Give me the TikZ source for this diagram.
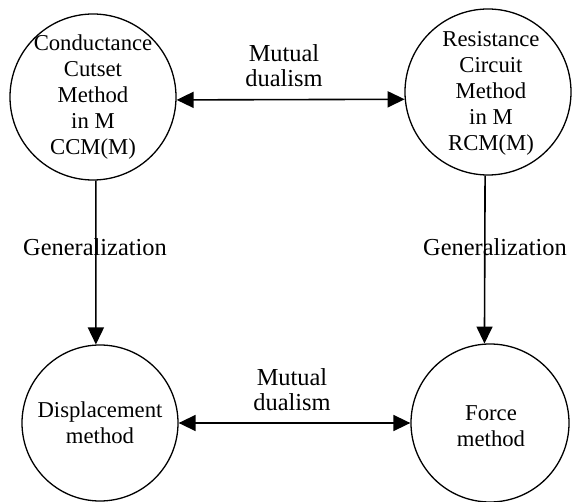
\documentclass[tikz,border=0pt]{standalone}
\usepackage{fontspec}
\setmainfont{Liberation Serif}
\usetikzlibrary{arrows.meta}
\tikzstyle{methodnode}=[circle,draw=black,line width=1.3pt,
                        inner sep=0pt]
\tikzstyle{methodtext}=[align=center,inner sep=0pt,
                        font=\fontsize{22.7}{26}\selectfont]
\tikzstyle{linktext}=[align=center,inner sep=0pt,
                      font=\fontsize{24.4}{25}\selectfont]
\tikzstyle{genarrow}=[line width=1.6pt,
                      -{Triangle[length=17pt,width=16pt]}]
\tikzstyle{dualarrow}=[line width=1.6pt,
                       {Triangle[length=17pt,width=16pt]}-{Triangle[length=17pt,width=16pt]}]

\begin{document}
\begin{tikzpicture}[x=1pt,y=-1pt]
    \useasboundingbox (0,0) rectangle (573,502);
    % the four methods
    \node (ccm) at ( 93, 97) [methodnode,minimum size=166pt]{};
    \node (rcm) at (488, 92) [methodnode,minimum size=166pt]{};
    \node (dm)  at (100,423) [methodnode,minimum size=156pt]{};
    \node (fm)  at (490,423) [methodnode,minimum size=158pt]{};
    \node (ccmtext) at (ccm) [methodtext]{Conductance\\Cutset\\Method\\in M\\CCM(M)};
    \node (rcmtext) at (491, 93) [methodtext]{Resistance\\Circuit\\Method\\in M\\RCM(M)};
    \node (dmtext)  at (dm) [methodtext]{Displacement\\method};
    \node (fmtext)  at (491,426) [methodtext]{Force\\method};
    % links
    \draw[dualarrow] (ccm.-2) -- (rcm.185.5);
    \draw[dualarrow] (dm.east) -- (fm.west);
    \draw[genarrow] (ccm.-88) -- (dm.93);
    \draw[genarrow] (rcm.-92.8) -- (fm.94.4);
    \node (dualtop) at (284, 66) [linktext]{Mutual\\dualism};
    \node (dualbot) at (292,390) [linktext]{Mutual\\dualism};
    \node (genleft)  at ( 95,247) [linktext]{Generalization};
    \node (genright) at (495,247) [linktext]{Generalization};
  \end{tikzpicture}
\end{document}
